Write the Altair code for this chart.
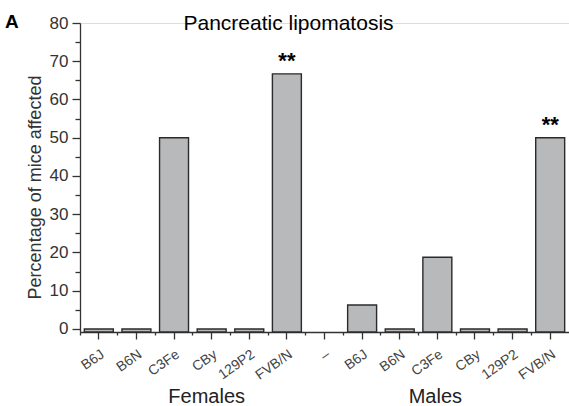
import altair as alt
import pandas as pd

# ---- data ----
strains_f = ["B6J", "B6N", "C3Fe", "CBy", "129P2", "FVB/N"]
values_f = [0, 0, 50, 0, 0, 66.7]
stars_f = ["", "", "", "", "", "**"]

strains_m = ["–", "B6J", "B6N", "C3Fe", "CBy", "129P2", "FVB/N"]
values_m = [None, 6.25, 0, 18.75, 0, 0, 50]
stars_m = ["", "", "", "", "", "", "**"]

major_ticks = [0, 10, 20, 30, 40, 50, 60, 70, 80]
minor_ticks = [5, 15, 25, 35, 45, 55, 65, 75]

groups = ["Females", "Males"]
group_anchor = ["F|CBy", "M|C3Fe"]

title_text = "Pancreatic lipomatosis"
panel_text = "A"

keys = ["F|" + s for s in strains_f] + ["M|" + s for s in strains_m]
df = pd.DataFrame({"key": keys, "value": values_f + values_m, "star": stars_f + stars_m})
bars_df = df.dropna(subset=["value"])
stars_df = df[df["star"] != ""]

Y_MIN, Y_MAX = -0.8, 80
FONT = "Liberation Sans"
AX = "#333333"

xscale = alt.Scale(domain=keys, paddingInner=0, paddingOuter=0)
yscale = alt.Scale(domain=[Y_MIN, Y_MAX], nice=False, zero=False)

bars = alt.Chart(bars_df).mark_bar(
    width={"band": 0.77}, fill="#b8b9bb", stroke="#2b2b2b", strokeWidth=1.4
).encode(
    x=alt.X("key:N", scale=xscale, sort=keys, axis=alt.Axis(
        orient="bottom", title=None,
        labelExpr="split(datum.value, '|')[1]",
        labelAngle=325, labelAlign="right", labelBaseline="top",
        labelFont=FONT, labelFontSize=14, labelColor="#444444", labelPadding=8,
        labelOverlap=False,
        tickSize=7, tickColor=AX, tickWidth=1.3,
        domainColor=AX, domainWidth=1.3, grid=False,
    )),
    y=alt.Y("value:Q", scale=yscale, axis=alt.Axis(
        orient="left", values=major_ticks, labelOverlap=False,
        tickSize=8, tickColor=AX, tickWidth=1.3, domainColor=AX, domainWidth=1.3, grid=False,
        labelFont=FONT, labelFontSize=17, labelColor=AX, labelPadding=4,
        title="Percentage of mice affected", titleFont=FONT, titleFontSize=18,
        titleFontWeight="normal", titleColor=AX, titleX=-40, titleY=164,
        titleBaseline="alphabetic",
    )),
    y2=alt.datum(Y_MIN),
)

minor = alt.Chart(bars_df).mark_tick(opacity=0).encode(
    x=alt.X("key:N", scale=xscale, sort=keys, axis=alt.Axis(
        orient="bottom", bandPosition=0, labels=False, domain=False,
        tickSize=3, tickColor=AX, tickWidth=1.3, title=None, grid=False,
    )),
    y=alt.Y("value:Q", scale=yscale, axis=alt.Axis(
        orient="left", values=minor_ticks, labels=False, domain=False,
        tickSize=5, tickColor=AX, tickWidth=1.3, title=None, grid=False,
    )),
)

stars = alt.Chart(stars_df).mark_text(
    fontSize=22, fontWeight="bold", font=FONT, baseline="alphabetic", dy=-6, color="black"
).encode(
    x=alt.X("key:N", scale=xscale, sort=keys, axis=None),
    y=alt.Y("value:Q", scale=yscale, axis=None),
    text="star:N",
)

group_layers = []
for g, a, off in zip(groups, group_anchor, [-5, -2]):
    gd = pd.DataFrame({"group": [g], "anchor": [a]})
    group_layers.append(
        alt.Chart(gd).mark_text(
            fontSize=20, font=FONT, color="#222222", baseline="alphabetic", dx=off
        ).encode(
            x=alt.X("anchor:N", scale=xscale, sort=keys, axis=None),
            y=alt.value(380),
            text="group:N",
        )
    )

panel = alt.Chart(pd.DataFrame({"t": [panel_text]})).mark_text(
    fontSize=19, fontWeight="bold", font=FONT, align="left", baseline="alphabetic", color="black"
).encode(x=alt.value(-75), y=alt.value(5), text="t:N")

title = alt.Chart(pd.DataFrame({"t": [title_text]})).mark_text(
    fontSize=21, font=FONT, align="center", baseline="alphabetic", color="black"
).encode(x=alt.value(208.5), y=alt.value(7), text="t:N")

chart = alt.layer(bars, minor, stars, *group_layers, panel, title).resolve_axis(
    x="independent", y="independent"
).properties(
    width=489, height=309,
    autosize=alt.AutoSizeParams(type="none"),
    padding={"left": 80, "top": 23, "right": 0, "bottom": 74},
).configure_view(stroke=None).configure(background="white")

chart.save("out.html", embed_options={"renderer": "svg", "actions": False})
